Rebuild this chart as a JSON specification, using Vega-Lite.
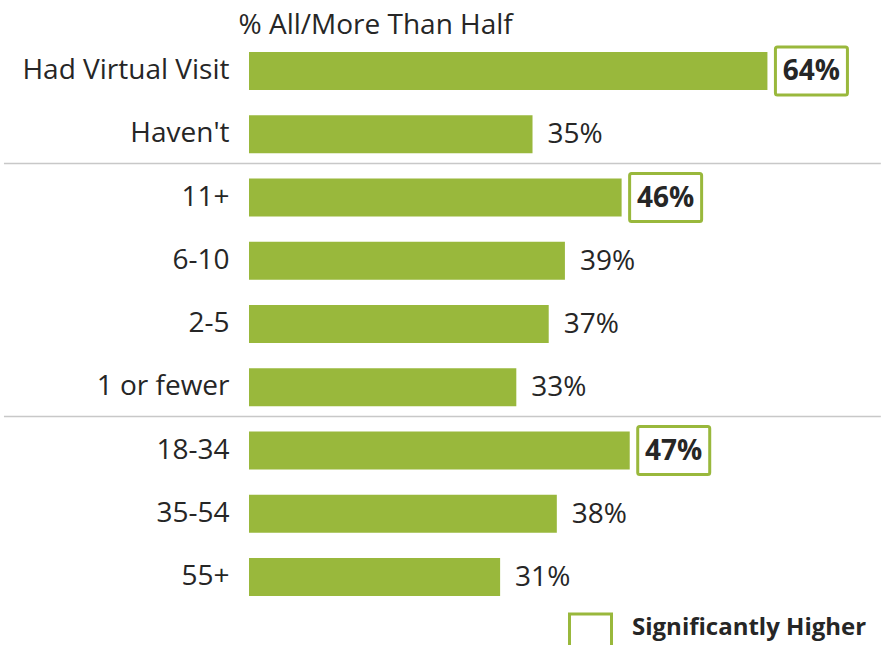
{
  "$schema": "https://vega.github.io/schema/vega-lite/v6.json",
  "autosize": {"type": "none"},
  "width": 632,
  "height": 569.25,
  "padding": {"left": 249, "top": 39.4, "right": 0, "bottom": 36.35},
  "background": "white",
  "config": {
    "view": {"stroke": null},
    "font": "Open Sans",
    "text": {"font": "Open Sans", "fontSize": 28, "color": "#262626"}
  },
  "data": {
    "values": [
      {"cat": "Had Virtual Visit", "value": 64, "label": "64%", "sig": true},
      {"cat": "Haven't", "value": 35, "label": "35%", "sig": false},
      {"cat": "11+", "value": 46, "label": "46%", "sig": true},
      {"cat": "6-10", "value": 39, "label": "39%", "sig": false},
      {"cat": "2-5", "value": 37, "label": "37%", "sig": false},
      {"cat": "1 or fewer", "value": 33, "label": "33%", "sig": false},
      {"cat": "18-34", "value": 47, "label": "47%", "sig": true},
      {"cat": "35-54", "value": 38, "label": "38%", "sig": false},
      {"cat": "55+", "value": 31, "label": "31%", "sig": false}
    ]
  },
  "encoding": {
    "y": {
      "field": "cat",
      "type": "nominal",
      "sort": ["Had Virtual Visit", "Haven't", "11+", "6-10", "2-5", "1 or fewer", "18-34", "35-54", "55+"],
      "scale": {"paddingInner": 0.4, "paddingOuter": 0.2},
      "axis": {
        "title": null,
        "domain": false,
        "ticks": false,
        "labelFont": "Open Sans",
        "labelFontSize": 28,
        "labelColor": "#262626",
        "labelPadding": 20,
        "labelLimit": 400
      }
    }
  },
  "layer": [
    {
      "transform": [{"filter": "datum.cat === '11+' || datum.cat === '18-34'"}],
      "mark": {"type": "rule", "color": "#c8c8c8", "strokeWidth": 1.5, "yOffset": -34},
      "encoding": {
        "x": {"datum": -30.25, "type": "quantitative"},
        "x2": {"datum": 78}
      }
    },
    {
      "mark": {"type": "bar", "color": "#99B83C"},
      "encoding": {
        "x": {
          "field": "value",
          "type": "quantitative",
          "scale": {"domain": [0, 78.02], "nice": false, "zero": true},
          "axis": {
            "orient": "top",
            "domain": false,
            "ticks": false,
            "labels": false,
            "grid": false,
            "title": "% All/More Than Half",
            "titleFont": "Open Sans",
            "titleFontSize": 28,
            "titleFontWeight": "normal",
            "titleColor": "#262626",
            "titleX": -11,
            "titleY": -6,
            "titleAlign": "left",
            "titleBaseline": "alphabetic"
          }
        }
      }
    },
    {
      "transform": [{"filter": "!datum.sig"}],
      "mark": {"type": "text", "align": "left", "baseline": "middle", "dx": 15, "dy": 1},
      "encoding": {
        "x": {"field": "value", "type": "quantitative"},
        "text": {"field": "label", "type": "nominal"}
      }
    },
    {
      "transform": [{"filter": "datum.sig"}],
      "mark": {
        "type": "bar",
        "height": 48,
        "fill": "white",
        "strokeWidth": 3,
        "cornerRadius": 2,
        "xOffset": 8,
        "x2Offset": 80
      },
      "encoding": {
        "x": {"field": "value", "type": "quantitative"},
        "x2": {"field": "value"},
        "stroke": {
          "datum": "Significantly Higher",
          "scale": {"range": ["#99B83C"]},
          "legend": {
            "orient": "none",
            "legendX": 319,
            "legendY": 573,
            "title": null,
            "symbolType": "square",
            "symbolSize": 1764,
            "symbolStrokeWidth": 3,
            "symbolFillColor": "white",
            "labelFont": "Open Sans",
            "labelFontSize": 24,
            "labelFontWeight": "bold",
            "labelColor": "#262626",
            "labelOffset": 19,
            "labelBaseline": "alphabetic",
            "labelLimit": 400,
            "padding": 0
          }
        }
      }
    },
    {
      "transform": [{"filter": "datum.sig"}],
      "mark": {"type": "text", "align": "center", "baseline": "middle", "dx": 44, "dy": 1, "fontWeight": "bold"},
      "encoding": {
        "x": {"field": "value", "type": "quantitative"},
        "text": {"field": "label", "type": "nominal"}
      }
    }
  ]
}
